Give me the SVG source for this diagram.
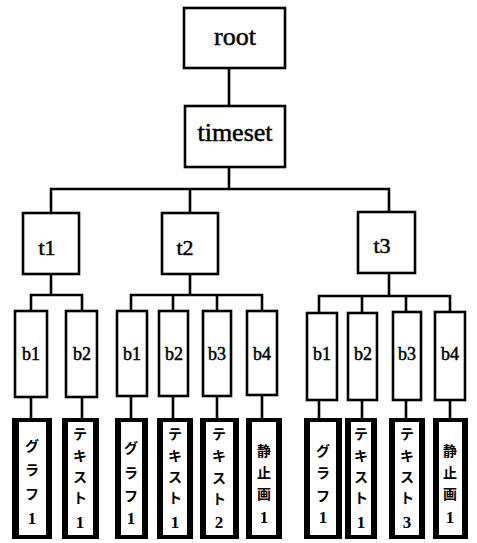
<svg xmlns="http://www.w3.org/2000/svg" width="477" height="543" viewBox="0 0 477 543">
  <style>
    .box { fill: #fff; stroke: #000; stroke-width: 2.6; }
    .leaf-o { fill: #000; }
    .leaf-i { fill: #fff; }
    .wire { fill: none; stroke: #000; stroke-width: 2.6; stroke-linecap: square; }
    .lbl { font-family: "Liberation Serif", "Times New Roman", serif; fill: #000; stroke: #000; stroke-width: 0.5; text-anchor: middle; }
    .big { font-size: 26px; }
    .mid { font-size: 22px; }
    .sm { font-size: 18px; }
    .jp { font-family: "Noto Sans CJK JP", "Noto Sans CJK SC", sans-serif; font-size: 14px; font-weight: bold; fill: #000; text-anchor: middle; dominant-baseline: central; }
    .num { font-family: "Liberation Serif", serif; font-size: 17px; font-weight: bold; fill: #000; text-anchor: middle; dominant-baseline: central; }
  </style>

  <!-- connectors -->
  <g id="connectors" class="wire">
    <path d="M229,68 V106"/>
    <path d="M229,167 V189 M51,189 H389 M51,189 V213 M190,189 V213 M389,189 V212"/>
    <!-- t1 children -->
    <path d="M51,274 V295 M31,295 H82 M31,295 V311 M82,295 V311"/>
    <!-- t2 children -->
    <path d="M190,274 V295 M131,295 H262 M131,295 V311 M173,295 V311 M217,295 V311 M262,295 V311"/>
    <!-- t3 children -->
    <path d="M389,273 V296 M319,296 H450 M319,296 V313 M362,296 V313 M406,296 V312 M450,296 V312"/>
    <!-- block to media -->
    <path d="M31,397 V418 M82,397 V418"/>
    <path d="M131,396 V418 M173,396 V418 M217,396 V418 M262,395 V418"/>
    <path d="M319,400 V418 M362,400 V418 M406,400 V418 M450,400 V418"/>
  </g>

  <g id="root"><rect class="box" x="184" y="8" width="101" height="60"/><text class="lbl big" x="235" y="45">root</text></g>
  <g id="timeset"><rect class="box" x="185" y="106" width="100" height="61"/><text class="lbl big" x="235" y="141">timeset</text></g>

  <g id="t1"><rect class="box" x="23" y="213" width="56" height="61"/><text class="lbl mid" x="47" y="255">t1</text></g>
  <g id="t2"><rect class="box" x="162" y="213" width="56" height="61"/><text class="lbl mid" x="185" y="255">t2</text></g>
  <g id="t3"><rect class="box" x="358" y="212" width="57" height="61"/><text class="lbl mid" x="382" y="253">t3</text></g>

  <!-- blocks -->
  <g id="t1-b1"><rect class="box" x="15" y="311" width="32" height="86"/><text class="lbl sm" x="31" y="360">b1</text></g>
  <g id="t1-b2"><rect class="box" x="66" y="311" width="31" height="86"/><text class="lbl sm" x="82" y="360">b2</text></g>
  <g id="t2-b1"><rect class="box" x="117" y="311" width="30" height="85"/><text class="lbl sm" x="132" y="360">b1</text></g>
  <g id="t2-b2"><rect class="box" x="159" y="311" width="29" height="85"/><text class="lbl sm" x="174" y="360">b2</text></g>
  <g id="t2-b3"><rect class="box" x="203" y="311" width="28" height="85"/><text class="lbl sm" x="217" y="360">b3</text></g>
  <g id="t2-b4"><rect class="box" x="247" y="311" width="30" height="84"/><text class="lbl sm" x="262" y="360">b4</text></g>
  <g id="t3-b1"><rect class="box" x="307" y="313" width="30" height="87"/><text class="lbl sm" x="322" y="360">b1</text></g>
  <g id="t3-b2"><rect class="box" x="348" y="313" width="29" height="87"/><text class="lbl sm" x="363" y="360">b2</text></g>
  <g id="t3-b3"><rect class="box" x="393" y="312" width="28" height="88"/><text class="lbl sm" x="407" y="360">b3</text></g>
  <g id="t3-b4"><rect class="box" x="435" y="312" width="30" height="88"/><text class="lbl sm" x="450" y="360">b4</text></g>

  <!-- media leaves: labels run top to bottom, one glyph per line -->
  <g id="t1-graph1"><rect class="leaf-o" x="12" y="418" width="40" height="121"/><rect class="leaf-i" x="19" y="422" width="27" height="113"/>
    <text class="jp" x="32" y="445">グ</text><text class="jp" x="32" y="469">ラ</text><text class="jp" x="32" y="493">フ</text><text class="num" x="32" y="518">1</text></g>
  <g id="t1-text1"><rect class="leaf-o" x="62" y="418" width="37" height="121"/><rect class="leaf-i" x="68" y="422" width="25" height="113"/>
    <text class="jp" x="80" y="433">テ</text><text class="jp" x="80" y="455">キ</text><text class="jp" x="80" y="476">ス</text><text class="jp" x="80" y="497">ト</text><text class="num" x="80" y="522">1</text></g>

  <g id="t2-graph1"><rect class="leaf-o" x="115" y="418" width="33" height="121"/><rect class="leaf-i" x="121" y="422" width="21" height="113"/>
    <text class="jp" x="131" y="447">グ</text><text class="jp" x="131" y="472">ラ</text><text class="jp" x="131" y="495">フ</text><text class="num" x="131" y="518">1</text></g>
  <g id="t2-text1"><rect class="leaf-o" x="157" y="418" width="36" height="121"/><rect class="leaf-i" x="163" y="422" width="24" height="113"/>
    <text class="jp" x="175" y="433">テ</text><text class="jp" x="175" y="455">キ</text><text class="jp" x="175" y="476">ス</text><text class="jp" x="175" y="497">ト</text><text class="num" x="175" y="522">1</text></g>
  <g id="t2-text2"><rect class="leaf-o" x="200" y="418" width="39" height="121"/><rect class="leaf-i" x="206" y="422" width="27" height="113"/>
    <text class="jp" x="219" y="433">テ</text><text class="jp" x="219" y="455">キ</text><text class="jp" x="219" y="477">ス</text><text class="jp" x="219" y="498">ト</text><text class="num" x="219" y="522">2</text></g>
  <g id="t2-still1"><rect class="leaf-o" x="246" y="418" width="36" height="121"/><rect class="leaf-i" x="252" y="422" width="24" height="113"/>
    <text class="jp" x="264" y="450">静</text><text class="jp" x="264" y="472">止</text><text class="jp" x="264" y="493">画</text><text class="num" x="264" y="517">1</text></g>

  <g id="t3-graph1"><rect class="leaf-o" x="304" y="418" width="38" height="121"/><rect class="leaf-i" x="310" y="422" width="26" height="113"/>
    <text class="jp" x="323" y="450">グ</text><text class="jp" x="323" y="472">ラ</text><text class="jp" x="323" y="495">フ</text><text class="num" x="323" y="517">1</text></g>
  <g id="t3-text1"><rect class="leaf-o" x="345" y="418" width="32" height="121"/><rect class="leaf-i" x="351" y="422" width="20" height="113"/>
    <text class="jp" x="361" y="433">テ</text><text class="jp" x="361" y="455">キ</text><text class="jp" x="361" y="476">ス</text><text class="jp" x="361" y="497">ト</text><text class="num" x="361" y="522">1</text></g>
  <g id="t3-text3"><rect class="leaf-o" x="389" y="418" width="36" height="121"/><rect class="leaf-i" x="395" y="422" width="24" height="113"/>
    <text class="jp" x="407" y="433">テ</text><text class="jp" x="407" y="455">キ</text><text class="jp" x="407" y="476">ス</text><text class="jp" x="407" y="497">ト</text><text class="num" x="407" y="522">3</text></g>
  <g id="t3-still1"><rect class="leaf-o" x="433" y="418" width="35" height="121"/><rect class="leaf-i" x="439" y="422" width="23" height="113"/>
    <text class="jp" x="450" y="450">静</text><text class="jp" x="450" y="472">止</text><text class="jp" x="450" y="493">画</text><text class="num" x="450" y="517">1</text></g>
</svg>
